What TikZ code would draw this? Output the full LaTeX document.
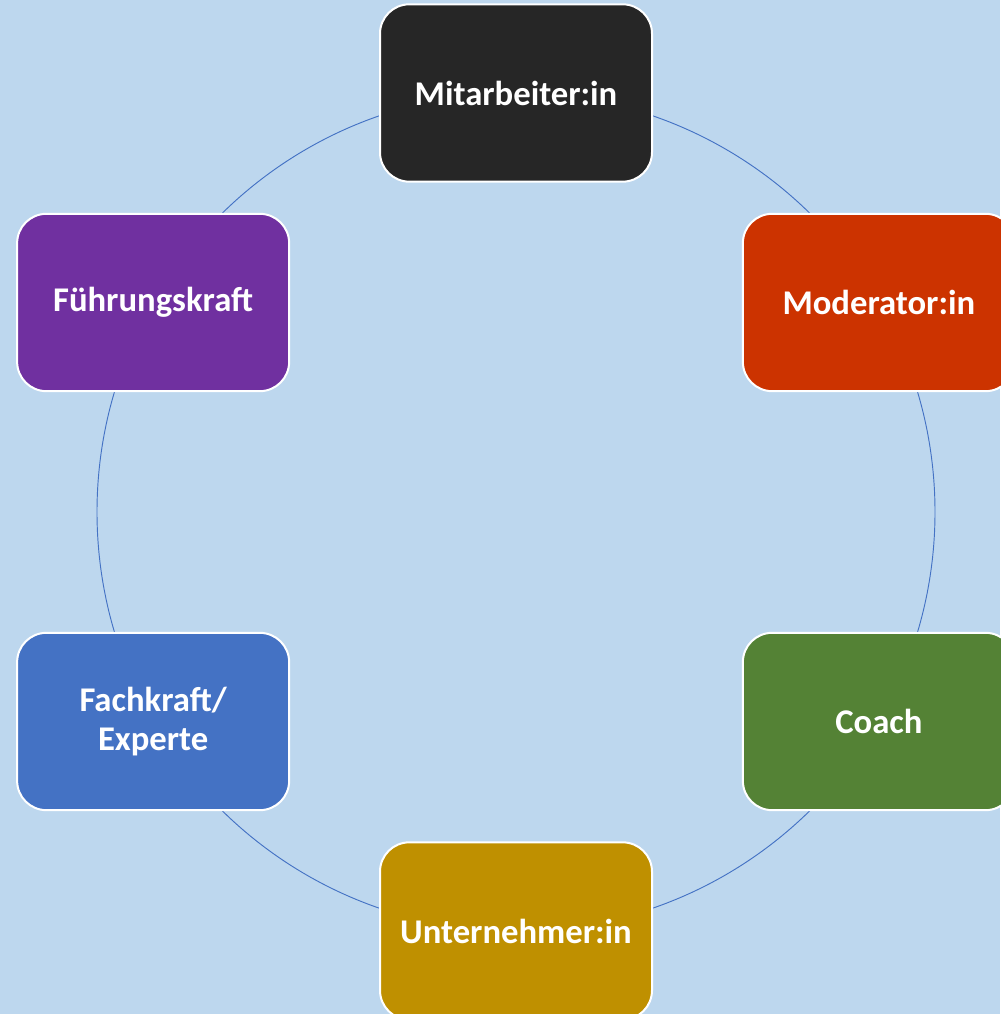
\documentclass[tikz,border=0pt]{standalone}
\usepackage{fontspec}
\setmainfont{Carlito}
\usepackage{tikz}

\definecolor{paleblue}{RGB}{189,215,238}
\definecolor{ringblue}{RGB}{68,114,196}
\definecolor{darkgrey}{RGB}{38,38,38}
\definecolor{brickred}{RGB}{204,51,0}
\definecolor{leafgreen}{RGB}{84,130,53}
\definecolor{mustard}{RGB}{191,144,0}
\definecolor{steelblue}{RGB}{68,114,196}
\definecolor{plum}{RGB}{112,48,160}

\begin{document}
\begin{tikzpicture}[x=0.75pt, y=0.75pt,
    role/.style={draw=white, line width=1.5pt, rounded corners=22pt,
        minimum width=204pt, minimum height=133pt, align=center,
        text=white, font=\fontsize{26}{29.5}\selectfont\bfseries}]
\fill[paleblue] (0, 0) rectangle (1000, 1014);
\useasboundingbox (0, 0) rectangle (1000, 1014);
\coordinate (hub) at (516, 502);
\draw[ringblue, line width=0.7pt] (hub) circle[radius=314.25pt];
\node[role, fill=darkgrey] (mitarbeiter) at ([shift={(90:419)}]hub) {Mitarbeiter:in};
\node[role, fill=brickred] (moderator) at ([shift={(30:419)}]hub) {Moderator:in};
\node[role, fill=leafgreen] (coach) at ([shift={(-30:419)}]hub) {Coach};
\node[role, fill=mustard] (unternehmer) at ([shift={(-90:419)}]hub) {Unternehmer:in};
\node[role, fill=steelblue] (fachkraft) at ([shift={(210:419)}]hub) {Fachkraft/\\Experte};
\node[role, fill=plum] (fuehrung) at ([shift={(150:419)}]hub) {Führungskraft};
\end{tikzpicture}
\end{document}
